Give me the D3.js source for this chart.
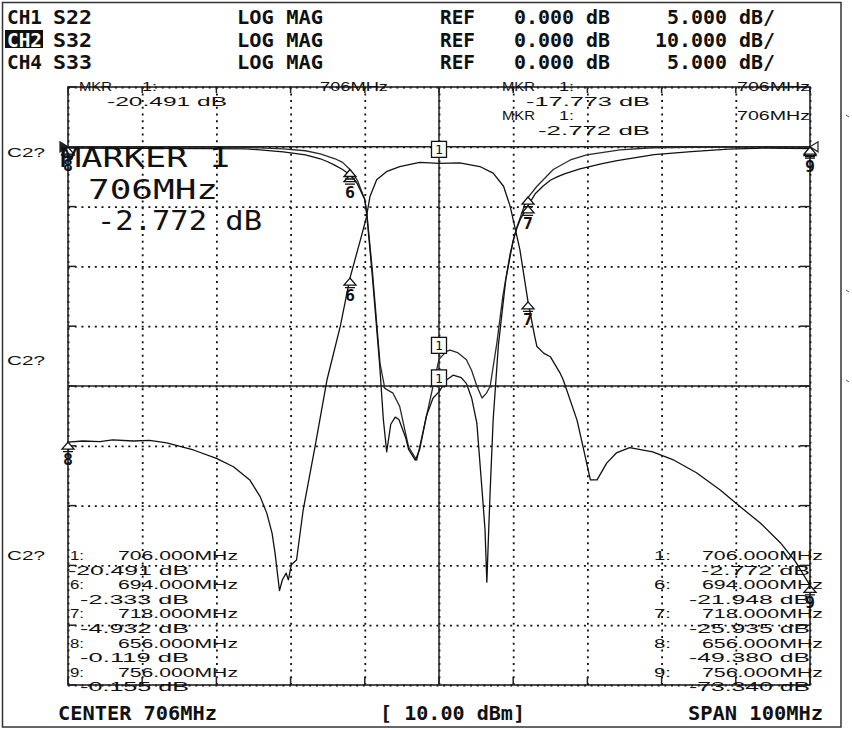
<!DOCTYPE html>
<html><head><meta charset="utf-8">
<script src="https://cdn.jsdelivr.net/npm/d3@7/dist/d3.min.js"></script>
<style>html,body{margin:0;padding:0;background:#fff;}svg{display:block;}</style>
</head><body>
<svg id="c" width="852" height="730"></svg>
<script>
// ---------------- data ----------------
const channels = ["CH1", "CH2", "CH4"];
const params = ["S22", "S32", "S33"];
const formats = ["LOG MAG", "LOG MAG", "LOG MAG"];
const refLevels = ["0.000 dB", "0.000 dB", "0.000 dB"];
const scaleLabels = ["5.000 dB/", "10.000 dB/", "5.000 dB/"];
const freqTicks = [656, 666, 676, 686, 696, 706, 716, 726, 736, 746, 756];
const dbTicks5 = [5, 0, -5, -10, -15, -20, -25, -30, -35, -40, -45];

// S22 (CH1, 5 dB/div)
const freqS22 = [656, 665, 675, 680, 685, 688, 690, 691, 692, 693, 694, 695, 696, 696.3, 697, 698, 698.5, 698.95, 699.5, 700.1, 700.6, 701.5, 701.9, 702.8, 703.4, 704.3, 705.2, 706, 707, 707.9, 709, 709.7, 710.4, 711.1, 711.8, 712.2, 712.45, 712.7, 712.9, 713.3, 714, 715, 716, 716.5, 717, 718, 719, 720, 721, 722, 723, 725, 728, 730, 735, 740, 745, 750, 756];
const dbS22 = [-0.119, -0.12, -0.15, -0.17, -0.42, -0.67, -1.0, -1.25, -1.55, -1.9, -2.333, -3.1, -4.4, -5.9, -10.7, -18.2, -22.8, -25.5, -23.2, -22.6, -22.8, -24.3, -25.3, -26.2, -25.3, -22.5, -21.0, -20.491, -19.5, -19.1, -19.3, -19.8, -21.0, -23.1, -28.7, -32.0, -36.4, -32.0, -28.7, -22.8, -16.6, -11.1, -7.8, -6.8, -6.0, -4.932, -3.9, -3.3, -2.8, -2.5, -2.25, -1.85, -1.4, -1.15, -0.65, -0.4, -0.2, -0.1, -0.155];

// S32 (CH2, 10 dB/div)
const freqS32 = [656, 658, 660.3, 662, 664.8, 667, 669.3, 672.9, 676, 678.3, 680.5, 681.9, 682.8, 683.5, 683.9, 684.5, 684.9, 685.4, 685.7, 686.1, 686.8, 687.7, 689.3, 690.9, 692.7, 694, 695.4, 696.2, 696.7, 697.6, 699, 700.7, 703.4, 706, 708.8, 711.5, 713.3, 714.7, 715.6, 716.2, 716.9, 718, 718.9, 719.2, 720.1, 721, 722.3, 722.75, 724.6, 725.4, 726.4, 727.3, 728.6, 729.9, 731.7, 734.8, 737.5, 740.7, 743.9, 746.6, 749.3, 752, 754, 756];
const dbS32 = [-49.38, -49.2, -49.3, -49.0, -49.2, -49.1, -49.5, -50.7, -52.1, -53.5, -55.7, -58.5, -61.3, -64.6, -67.9, -74.2, -72.4, -71.3, -72.4, -69.9, -69.1, -60.7, -50.1, -39.0, -30.0, -21.948, -15.6, -11.9, -8.3, -5.5, -4.1, -3.3, -2.6, -2.772, -2.7, -3.3, -4.4, -6.6, -10.0, -13.3, -17.2, -25.935, -31.7, -33.4, -34.5, -35.1, -37.8, -39.0, -45.7, -50.1, -55.7, -55.7, -52.9, -51.2, -50.3, -51.0, -52.3, -54.5, -57.4, -60.2, -62.9, -66.2, -69.3, -73.34];

// S33 (CH4, 5 dB/div)
const freqS33 = [656, 670, 680, 685, 688, 690, 692, 693, 694, 695, 696, 696.3, 697, 698.05, 698.7, 699.8, 700.7, 701.9, 703, 703.9, 705.2, 706, 707, 707.5, 708.5, 709.7, 710.4, 711.1, 711.8, 712.4, 712.9, 713.8, 714.6, 715.6, 716.4, 717.8, 719.2, 721.4, 723.7, 725.9, 730.4, 734.8, 740, 748, 756];
const dbS33 = [-0.02, -0.03, -0.05, -0.17, -0.33, -0.6, -1.0, -1.3, -1.9, -2.8, -4.4, -5.7, -10.2, -18.1, -20.2, -20.6, -21.7, -25.1, -26.2, -23.7, -20.0, -17.773, -17.1, -17.0, -17.2, -17.8, -18.7, -20.0, -21.0, -20.6, -20.0, -16.4, -12.5, -8.9, -6.9, -4.4, -3.3, -1.9, -1.1, -0.67, -0.25, -0.08, -0.05, -0.03, -0.02];

// markers
const markerIds = ["1", "6", "7", "8", "9"];
const markerFreqs = [706, 694, 718, 656, 756];
const markerS22 = [-20.491, -2.333, -4.932, -0.119, -0.155];
const markerS32 = [-2.772, -21.948, -25.935, -49.380, -73.340];
const markerS33 = [-17.773, -1.9, -4.2, -0.02, -0.02];

// ---------------- drawing ----------------
const svg = d3.select("#c");
const MONO = "'DejaVu Sans Mono', monospace";
const SANS = "'Liberation Sans', 'DejaVu Sans', sans-serif";

const L = 68, R = 810, T = 87, B = 685;
const x = d3.scaleLinear().domain([656, 756]).range([L, R]);
const y5 = d3.scaleLinear().domain([5, -45]).range([T, B]);
const y10 = d3.scaleLinear().domain([10, -90]).range([T, B]);

function txt(s, px, py, o) {
  const t = svg.append("text").attr("x", px).attr("y", py).text(s)
    .attr("font-family", o.font || MONO).attr("font-size", o.size || 13)
    .attr("font-weight", o.bold ? "bold" : "normal")
    .attr("fill", o.fill || "#111");
  if (o.w) t.attr("textLength", o.w).attr("lengthAdjust", "spacingAndGlyphs");
  if (o.anchor) t.attr("text-anchor", o.anchor);
  return t;
}

// outer frame
svg.append("rect").attr("x", 2.5).attr("y", 2.5).attr("width", 838.5).attr("height", 724.5)
  .attr("fill", "none").attr("stroke", "#333").attr("stroke-width", 1.5);
// small marks outside right
[115, 290, 380].forEach(v => svg.append("line").attr("x1", 846).attr("x2", 849).attr("y1", v).attr("y2", v + 2)
  .attr("stroke", "#555").attr("stroke-width", 1));

// header
const hdrY = [24, 46.5, 69];
channels.forEach((c, i) => {
  if (i === 1) {
    svg.append("rect").attr("x", 5).attr("y", hdrY[i] - 16.5).attr("width", 38).attr("height", 18).attr("fill", "#111");
    txt(c, 7, hdrY[i], { size: 20, bold: true, w: 35, fill: "#fff" });
  } else {
    txt(c, 7, hdrY[i], { size: 20, bold: true, w: 35 });
  }
  txt(params[i], 53, hdrY[i], { size: 20, bold: true, w: 39 });
  txt(formats[i], 237, hdrY[i], { size: 20, bold: true, w: 86 });
  txt("REF", 440, hdrY[i], { size: 20, bold: true, w: 35 });
  txt(refLevels[i], 514, hdrY[i], { size: 20, bold: true, w: 96 });
  txt(scaleLabels[i], 775, hdrY[i], { size: 20, bold: true, w: scaleLabels[i].length * 12, anchor: "end" });
});

// grid via axes
const gGrid = svg.append("g");
const xAxis = d3.axisBottom(x).tickValues(freqTicks).tickSize(-(B - T)).tickFormat("");
gGrid.append("g").attr("transform", `translate(0,${B})`).call(xAxis)
  .call(g => g.select(".domain").remove())
  .call(g => g.selectAll(".tick line").attr("stroke", "#111").attr("stroke-width", 1.8).attr("stroke-dasharray", "2,4.7"));
const yAxis = d3.axisLeft(y5).tickValues(dbTicks5).tickSize(-(R - L)).tickFormat("");
gGrid.append("g").attr("transform", `translate(${L},0)`).call(yAxis)
  .call(g => g.select(".domain").remove())
  .call(g => g.selectAll(".tick line").attr("stroke", "#111").attr("stroke-width", 1.8).attr("stroke-dasharray", "2,4.7"));

// edge ticks
freqTicks.forEach(f => {
  svg.append("line").attr("x1", x(f)).attr("x2", x(f)).attr("y1", B).attr("y2", B - 8).attr("stroke", "#222").attr("stroke-width", 1.5);
  svg.append("line").attr("x1", x(f)).attr("x2", x(f)).attr("y1", T).attr("y2", T + 6).attr("stroke", "#222").attr("stroke-width", 1.5);
});
dbTicks5.forEach(d => {
  svg.append("line").attr("x1", L).attr("x2", L + 8).attr("y1", y5(d)).attr("y2", y5(d)).attr("stroke", "#222").attr("stroke-width", 1.5);
  svg.append("line").attr("x1", R).attr("x2", R - 10).attr("y1", y5(d)).attr("y2", y5(d)).attr("stroke", "#222").attr("stroke-width", 1.5);
});
// solid center lines + reference line
svg.append("line").attr("x1", x(706)).attr("x2", x(706)).attr("y1", T).attr("y2", B).attr("stroke", "#222").attr("stroke-width", 1.5);
svg.append("line").attr("x1", L).attr("x2", R).attr("y1", y5(-20)).attr("y2", y5(-20)).attr("stroke", "#222").attr("stroke-width", 1.5);
svg.append("line").attr("x1", L).attr("x2", R).attr("y1", y5(0)).attr("y2", y5(0)).attr("stroke", "#222").attr("stroke-width", 1.6);
// graticule frame
svg.append("rect").attr("x", L).attr("y", T).attr("width", R - L).attr("height", B - T)
  .attr("fill", "none").attr("stroke", "#222").attr("stroke-width", 1.6);
// reference position triangles
svg.append("path").attr("d", `M${R},${y5(0)} L${R + 8},${y5(0) - 5} L${R + 8},${y5(0) + 5} Z`).attr("fill", "none").attr("stroke", "#222").attr("stroke-width", 1.2);
svg.append("path").attr("d", `M${L},${y5(0)} L${L - 8},${y5(0) - 5} L${L - 8},${y5(0) + 5} Z`).attr("fill", "#222").attr("stroke", "#222").attr("stroke-width", 1.2);

// traces
function trace(fs, vs, ys, color) {
  const line = d3.line().x(d => x(d[0])).y(d => ys(d[1]));
  svg.append("path").datum(fs.map((f, i) => [f, vs[i]])).attr("d", line)
    .attr("fill", "none").attr("stroke", color).attr("stroke-width", 1.3).attr("stroke-linejoin", "round");
}
trace(freqS33, dbS33, y5, "#2a2a2a");
trace(freqS22, dbS22, y5, "#111");
trace(freqS32, dbS32, y10, "#111");

// markers
const digitSpots = [];
function arrowMarker(px, py, id) {
  svg.append("path").attr("d", `M${px},${py} L${px - 6},${py + 7} L${px + 6},${py + 7} Z M${px - 5},${py + 9.5} H${px + 5}`)
    .attr("fill", "#fff").attr("stroke", "#111").attr("stroke-width", 1.3);
  const near = digitSpots.some(p => Math.abs(p[0] - px) < 3 && Math.abs(p[1] - py) < 9);
  if (!near) {
    digitSpots.push([px, py]);
    txt(id, px, py + 23, { size: 16, bold: true, anchor: "middle", w: 10 });
  }
}
function boxMarker(px, py, id) {
  svg.append("rect").attr("x", px - 7.5).attr("y", py - 22).attr("width", 15).attr("height", 16)
    .attr("fill", "#fff").attr("stroke", "#111").attr("stroke-width", 1.3);
  txt(id, px, py - 9, { size: 13, anchor: "middle" });
}
[[markerS22, y5], [markerS33, y5], [markerS32, y10]].forEach(([vals, ys]) => {
  markerIds.forEach((id, i) => {
    const px = x(markerFreqs[i]), py = ys(vals[i]);
    if (id === "1") boxMarker(px, py, id); else arrowMarker(px, py, id);
  });
});

// C2? labels
[157, 365, 560].forEach(v => txt("C2?", 7, v, { size: 13, font: SANS, w: 38 }));

// top marker readouts
txt("MKR", 79, 91, { size: 13, font: SANS, w: 33 });
txt("1:", 142, 91, { size: 13, font: SANS, w: 15 });
txt(markerFreqs[0] + "MHz", 388, 91, { size: 13, font: SANS, w: 68, anchor: "end" });
txt(markerS22[0].toFixed(3) + " dB", 227, 106, { size: 13, font: SANS, w: 120, anchor: "end" });

txt("MKR", 502, 91, { size: 13, font: SANS, w: 33 });
txt("1:", 559, 91, { size: 13, font: SANS, w: 15 });
txt(markerFreqs[0] + "MHz", 810, 91, { size: 13, font: SANS, w: 73, anchor: "end" });
txt(markerS33[0].toFixed(3) + " dB", 650, 106, { size: 13, font: SANS, w: 124, anchor: "end" });
txt("MKR", 502, 120, { size: 13, font: SANS, w: 33 });
txt("1:", 559, 120, { size: 13, font: SANS, w: 15 });
txt(markerFreqs[0] + "MHz", 810, 120, { size: 13, font: SANS, w: 73, anchor: "end" });
txt(markerS32[0].toFixed(3) + " dB", 650, 135, { size: 13, font: SANS, w: 112, anchor: "end" });

// big active marker text
txt("MARKER " + markerIds[0], 60, 167, { size: 27, w: 170 });
txt(markerFreqs[0] + "MHz", 88, 199, { size: 27, w: 130 });
txt(markerS32[0].toFixed(3) + " dB", 97, 230, { size: 27, w: 165 });

// marker lists
markerIds.forEach((id, i) => {
  const b1 = 560 + i * 2 * 14.6, b2 = b1 + 14.6;
  // left: CH1 (S22)
  txt(id + ":", 70, b1, { size: 13, font: SANS, w: 14 });
  const fStr = markerFreqs[i].toFixed(3) + "MHz";
  txt(fStr, 238, b1, { size: 13, font: SANS, w: 120, anchor: "end" });
  const vL = markerS22[i].toFixed(3) + " dB";
  txt(vL, 189, b2, { size: 13, font: SANS, w: vL.length * 12.1, anchor: "end" });
  // right: CH2 (S32)
  txt(id + ":", 654, b1, { size: 13, font: SANS, w: 17 });
  txt(fStr, 823, b1, { size: 13, font: SANS, w: 121, anchor: "end" });
  const vR = markerS32[i].toFixed(3) + " dB";
  txt(vR, 810, b2, { size: 13, font: SANS, w: vR.length * 12.1, anchor: "end" });
});

// bottom line
txt("CENTER " + markerFreqs[0] + "MHz", 58, 720, { size: 20, bold: true, w: 159 });
txt("[ 10.00 dBm]", 380, 720, { size: 20, bold: true, w: 145 });
txt("SPAN 100MHz", 823, 720, { size: 20, bold: true, w: 135, anchor: "end" });
</script>
</body></html>
